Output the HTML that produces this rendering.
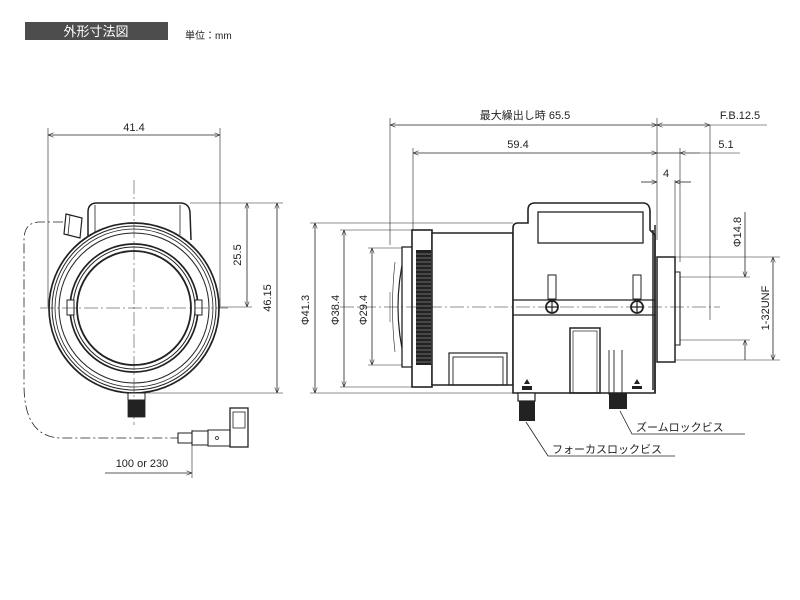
<!DOCTYPE html>
<html><head><meta charset="utf-8"><style>
html,body{margin:0;padding:0;background:#fff;width:800px;height:600px;overflow:hidden}
svg{display:block}
text{font-family:"Liberation Sans","Noto Sans CJK JP",sans-serif;fill:#222}
</style></head><body>
<svg width="800" height="600" viewBox="0 0 800 600" xmlns="http://www.w3.org/2000/svg">
<defs>
<marker id="a" viewBox="0 0 10 10" refX="10" refY="5" markerWidth="7" markerHeight="7" orient="auto-start-reverse"><path d="M0,1 L10,5 L0,9" fill="none" stroke="#222" stroke-width="1"/></marker>
</defs>
<rect x="25" y="22" width="143" height="18" fill="#4d4d4d"/>
<text x="96" y="36" font-size="13" text-anchor="middle" style="fill:#fff">外形寸法図</text>
<text x="185" y="39" font-size="10">単位：mm</text>

<g stroke="#222" fill="none" stroke-width="0.8">
<!-- FRONT VIEW -->
<path d="M48,128 V307 M220,128 V307" stroke-width="0.6"/>
<line x1="48" y1="135" x2="220" y2="135" marker-start="url(#a)" marker-end="url(#a)"/>
<path d="M190,203 H283 M216,307 H252 M145,393 H283" stroke-width="0.6"/>
<line x1="247" y1="203" x2="247" y2="307" marker-start="url(#a)" marker-end="url(#a)"/>
<line x1="277" y1="203" x2="277" y2="393" marker-start="url(#a)" marker-end="url(#a)"/>
<path d="M88,238 V212 Q88,203 97,203 H180 Q189,203 190,212 L191,240" stroke-width="1.5" fill="#fff"/>
<line x1="95" y1="205" x2="95" y2="235"/>
<line x1="180" y1="205" x2="180" y2="235"/>
<circle cx="134" cy="308" r="85" stroke-width="1.7" fill="#fff"/>
<circle cx="134" cy="308" r="82" stroke-width="1"/>
<circle cx="134" cy="308" r="79"/>
<circle cx="134" cy="308" r="75" stroke-width="1"/>
<circle cx="134" cy="308" r="64" stroke-width="1.7"/>
<circle cx="134" cy="308" r="61" stroke-width="1"/>
<circle cx="134" cy="308" r="57" stroke-width="1.8"/>
<rect x="67" y="300" width="7" height="15" fill="#fff" stroke-width="1"/>
<rect x="195" y="300" width="7" height="15" fill="#fff" stroke-width="1"/>
<path d="M66,214 L82,218 L80,238 L64,234 Z" fill="#fff" stroke-width="1.2"/>
<path d="M70,215 L68,235" />
<rect x="128" y="393" width="17" height="7" fill="#fff" stroke-width="1"/>
<rect x="128" y="400" width="17" height="17" fill="#222"/>
<path d="M134,180 V425 M40,308 H228" stroke-width="0.5" stroke-dasharray="14,3,2,3"/>
<path d="M63,222 H40 Q24,222 24,240 V385 Q24,438 62,438 H180" stroke-width="0.8" stroke-dasharray="10,3,2,3"/>
<path d="M178,433 H192 V443 H178 Z M192,431 H208 V445 H192 Z M208,430 H232 V446 H208 Z" fill="#fff" stroke-width="1.1"/>
<circle cx="217" cy="438" r="1.5"/>
<rect x="230" y="408" width="18" height="39" fill="#fff" stroke-width="1.3"/>
<rect x="233" y="412" width="12" height="16"/>
<path d="M192,430 V478" stroke-width="0.6"/>
<line x1="105" y1="473" x2="192" y2="473" marker-end="url(#a)"/>

<!-- SIDE VIEW dims -->
<path d="M390,118 V245 M657,118 V240 M710,125 V320 M413,148 V235 M680,148 V262 M675,180 V262" stroke-width="0.6"/>
<line x1="390" y1="125" x2="657" y2="125" marker-start="url(#a)" marker-end="url(#a)"/>
<line x1="657" y1="125" x2="710" y2="125" marker-start="url(#a)" marker-end="url(#a)"/>
<line x1="710" y1="125" x2="767" y2="125" stroke-width="0.6"/>
<line x1="413" y1="153" x2="657" y2="153" marker-start="url(#a)" marker-end="url(#a)"/>
<line x1="657" y1="153" x2="680" y2="153"/>
<line x1="700" y1="153" x2="680" y2="153" marker-end="url(#a)"/>
<line x1="700" y1="153" x2="740" y2="153" stroke-width="0.6"/>
<line x1="641" y1="182" x2="657" y2="182" marker-end="url(#a)"/>
<line x1="691" y1="182" x2="675" y2="182" marker-end="url(#a)"/>
<path d="M310,223 H513 M310,393 H513 M340,230 H415 M340,387 H415 M368,248 H402 M368,365 H402" stroke-width="0.6"/>
<line x1="315" y1="223" x2="315" y2="393" marker-start="url(#a)" marker-end="url(#a)"/>
<line x1="344" y1="230" x2="344" y2="387" marker-start="url(#a)" marker-end="url(#a)"/>
<line x1="372" y1="248" x2="372" y2="365" marker-start="url(#a)" marker-end="url(#a)"/>
<path d="M680,277 H750 M680,340 H750 M675,257 H780 M675,360 H780" stroke-width="0.6"/>
<line x1="745" y1="212" x2="745" y2="277" marker-end="url(#a)"/>
<line x1="745" y1="360" x2="745" y2="340" marker-end="url(#a)"/>
<line x1="773" y1="257" x2="773" y2="360" marker-start="url(#a)" marker-end="url(#a)"/>

<!-- SIDE VIEW body -->
<path d="M405,252 Q391,307 405,362" stroke-width="1.2"/>
<rect x="402" y="247" width="12" height="120" fill="#fff" stroke-width="1.3"/>
<path d="M395,262 Q390,307 395,352" stroke-width="0.6"/>
<rect x="412" y="230" width="20" height="157" fill="#fff" stroke-width="1.6"/>
<rect x="416" y="250" width="15" height="115" fill="#222" stroke="none"/>
<g stroke="#888" stroke-width="0.8">
<path d="M416,254H431M416,258H431M416,262H431M416,266H431M416,270H431M416,274H431M416,278H431M416,282H431M416,286H431M416,290H431M416,294H431M416,298H431M416,302H431M416,306H431M416,310H431M416,314H431M416,318H431M416,322H431M416,326H431M416,330H431M416,334H431M416,338H431M416,342H431M416,346H431M416,350H431M416,354H431M416,358H431M416,362H431"/>
</g>
<rect x="432" y="233" width="81" height="152" fill="#fff" stroke-width="1.5"/>
<rect x="449" y="353" width="58" height="32" stroke-width="1.2"/>
<rect x="453" y="357" width="50" height="28" stroke-width="0.9"/>
<path d="M513,393 V228 Q513,223 518,223 H528 V210 Q528,203 535,203 H643 Q650,203 650,212 V230 L655,235 V393 Z" fill="#fff" stroke-width="1.6"/>
<rect x="538" y="212" width="105" height="31" stroke-width="1.3"/>
<path d="M513,300 H655 M513,315 H655" stroke-width="1.2"/>
<rect x="548" y="275" width="8" height="24" stroke-width="1"/>
<rect x="633" y="275" width="8" height="24" stroke-width="1"/>
<circle cx="552" cy="307" r="6" stroke-width="1.8" fill="#fff"/>
<circle cx="637" cy="307" r="6" stroke-width="1.8" fill="#fff"/>
<path d="M546,307H558M552,301V313M631,307H643M637,301V313" stroke-width="1.2"/>
<rect x="570" y="328" width="30" height="65" stroke-width="1.5"/>
<rect x="573" y="331" width="24" height="62" stroke-width="0.7"/>
<path d="M609,350 V395 M614,350 V395 M622,350 V395" stroke-width="0.9"/>
<rect x="518" y="393" width="17" height="8" fill="#fff" stroke-width="1.2"/>
<rect x="519" y="401" width="16" height="20" fill="#222" stroke="none"/>
<rect x="609" y="393" width="18" height="16" fill="#222" stroke="none"/>
<path d="M527,379 l3,5 h-6 z M637,379 l3,5 h-6 z" fill="#222" stroke="none"/>
<rect x="522" y="386" width="10" height="4" fill="#222" stroke="none"/>
<rect x="632" y="386" width="10" height="3" fill="#222" stroke="none"/>
<path d="M655,225 V393 M653,230 V390" stroke-width="1.5"/>
<rect x="657" y="257" width="18" height="105" fill="#fff" stroke-width="1.5"/>
<path d="M675,272 H680 V345 H675" stroke-width="1.1"/>
<path d="M340,307 H720" stroke-width="0.5" stroke-dasharray="14,3,2,3"/>
<path d="M390,292 V322" stroke-width="0.5"/>
<!-- leaders -->
<path d="M620,411 L632,434 H745" stroke-width="0.8"/>
<path d="M526,422 L548,456 H675" stroke-width="0.8"/>
</g>

<text x="134" y="131" font-size="11" text-anchor="middle">41.4</text>
<text transform="translate(241,255) rotate(-90)" font-size="11" text-anchor="middle">25.5</text>
<text transform="translate(271,298) rotate(-90)" font-size="11" text-anchor="middle">46.15</text>
<text x="142" y="467" font-size="11" text-anchor="middle">100 or 230</text>
<text x="525" y="119" font-size="11" text-anchor="middle">最大繰出し時 65.5</text>
<text x="740" y="119" font-size="11" text-anchor="middle">F.B.12.5</text>
<text x="518" y="148" font-size="11" text-anchor="middle">59.4</text>
<text x="726" y="148" font-size="11" text-anchor="middle">5.1</text>
<text x="666" y="177" font-size="11" text-anchor="middle">4</text>
<text transform="translate(741,232) rotate(-90)" font-size="11" text-anchor="middle">Φ14.8</text>
<text transform="translate(769,308) rotate(-90)" font-size="11" text-anchor="middle">1-32UNF</text>
<text transform="translate(309,310) rotate(-90)" font-size="11" text-anchor="middle">Φ41.3</text>
<text transform="translate(339,310) rotate(-90)" font-size="11" text-anchor="middle">Φ38.4</text>
<text transform="translate(367,310) rotate(-90)" font-size="11" text-anchor="middle">Φ29.4</text>
<text x="636" y="431" font-size="11">ズームロックビス</text>
<text x="552" y="453" font-size="11">フォーカスロックビス</text>
</svg>
</body></html>
